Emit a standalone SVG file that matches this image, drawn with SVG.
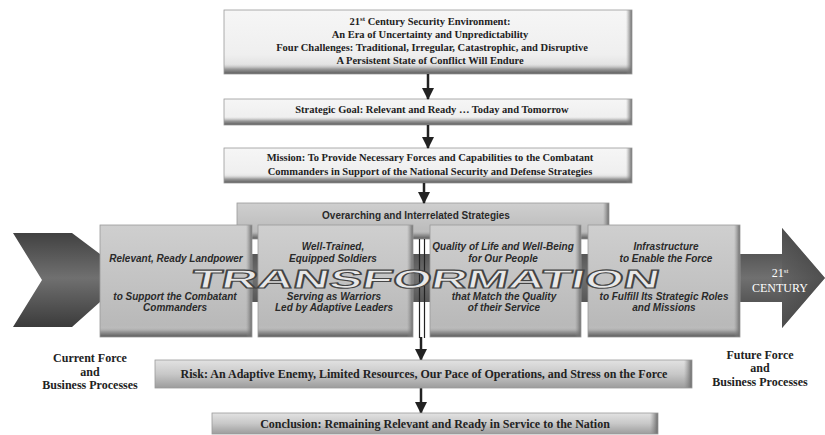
<svg xmlns="http://www.w3.org/2000/svg" width="825" height="435" viewBox="0 0 825 435">
<defs>
  <linearGradient id="gWhite" x1="0" y1="0" x2="0" y2="1">
    <stop offset="0" stop-color="#f6f6f6"/>
    <stop offset="0.7" stop-color="#efefef"/>
    <stop offset="1" stop-color="#d8d8d8"/>
  </linearGradient>
  <linearGradient id="gBottom" x1="0" y1="0" x2="0" y2="1">
    <stop offset="0" stop-color="#d0d0d0" stop-opacity="0"/>
    <stop offset="0.5" stop-color="#9a9a9a"/>
    <stop offset="1" stop-color="#5a5a5a"/>
  </linearGradient>
  <linearGradient id="gRight" x1="0" y1="0" x2="1" y2="0">
    <stop offset="0" stop-color="#888" stop-opacity="0"/>
    <stop offset="1" stop-color="#6a6a6a"/>
  </linearGradient>
  <linearGradient id="gGray" x1="0" y1="0" x2="0" y2="1">
    <stop offset="0" stop-color="#cfcfcf"/>
    <stop offset="0.5" stop-color="#c3c3c3"/>
    <stop offset="1" stop-color="#b6b6b6"/>
  </linearGradient>
  <linearGradient id="gBar" x1="0" y1="0" x2="0" y2="1">
    <stop offset="0" stop-color="#e2e2e2"/>
    <stop offset="0.5" stop-color="#c8c8c8"/>
    <stop offset="1" stop-color="#9c9c9c"/>
  </linearGradient>
  <linearGradient id="gArrow" x1="0" y1="0" x2="0" y2="1">
    <stop offset="0" stop-color="#3c3c3c"/>
    <stop offset="0.5" stop-color="#707070"/>
    <stop offset="1" stop-color="#3a3a3a"/>
  </linearGradient>
  <linearGradient id="gHead" x1="0" y1="0" x2="1" y2="0">
    <stop offset="0" stop-color="#5a5a5a"/>
    <stop offset="1" stop-color="#3a3a3a"/>
  </linearGradient>
  <marker id="ah" markerWidth="12" markerHeight="12" refX="11" refY="6" orient="auto" markerUnits="userSpaceOnUse">
    <path d="M0,0 L12,6 L0,12 Z" fill="#222"/>
  </marker>
  <style>
    .edge{fill:none;stroke:#999;stroke-width:0.8}
    .serif{font-family:"Liberation Serif","Times New Roman",serif;font-weight:bold;fill:#222;text-anchor:middle}
    .top{font-size:10.5px}
    .bar{font-size:12px}
    .side{font-size:12px}
    .it{font-family:"Liberation Sans",Arial,sans-serif;font-style:italic;font-weight:bold;font-size:10px;fill:#2a2a2a;text-anchor:middle}
    .sans{font-family:"Liberation Sans",Arial,sans-serif;font-weight:bold;font-size:10px;fill:#2a2a2a;text-anchor:middle}
    .conn{stroke:#222;stroke-width:2.5;fill:none}
  </style>
</defs>
<rect width="825" height="435" fill="#ffffff"/>

<!-- big transformation arrow -->
<g id="transformation-arrow">
  <path d="M13,233 L72,233 L100,254 L782,254 L782,228 L825,278 L782,328 L782,302 L100,302 L72,327 L13,327 L42,280 Z" fill="url(#gArrow)"/>
  <path d="M782,228 L825,278 L782,328 Z" fill="url(#gHead)" opacity="0.6"/>
  <text x="780" y="277" class="serif" style="font-size:12px;font-weight:normal;fill:#fff">21<tspan font-size="7" dy="-4">st</tspan></text>
  <text x="780" y="292" class="serif" style="font-size:12px;font-weight:normal;fill:#fff">CENTURY</text>
</g>

<g id="environment">
  <rect x="224" y="10" width="408" height="64" fill="url(#gWhite)"/>
  <rect x="224" y="64" width="408" height="10" fill="url(#gBottom)"/>
  <rect x="626" y="10" width="6" height="64" fill="url(#gRight)"/>
  <rect x="224" y="10" width="408" height="64" class="edge"/>
  <text x="430" y="25" class="serif top">21<tspan font-size="7" dy="-4">st</tspan><tspan dy="4"> Century Security Environment:</tspan></text>
  <text x="430" y="38" class="serif top">An Era of Uncertainty and Unpredictability</text>
  <text x="432" y="51" class="serif top">Four Challenges:  Traditional, Irregular, Catastrophic, and Disruptive</text>
  <text x="430" y="64" class="serif top">A Persistent State of Conflict Will Endure</text>
</g>

<g id="strategic-goal">
  <rect x="224" y="99" width="408" height="26" fill="url(#gWhite)"/>
  <rect x="224" y="117" width="408" height="8" fill="url(#gBottom)"/>
  <rect x="626" y="99" width="6" height="26" fill="url(#gRight)"/>
  <rect x="224" y="99" width="408" height="26" class="edge"/>
  <text x="432" y="113" class="serif top">Strategic Goal:  Relevant and Ready … Today and Tomorrow</text>
</g>

<g id="mission">
  <rect x="224" y="148" width="408" height="35" fill="url(#gWhite)"/>
  <rect x="224" y="175" width="408" height="8" fill="url(#gBottom)"/>
  <rect x="626" y="148" width="6" height="35" fill="url(#gRight)"/>
  <rect x="224" y="148" width="408" height="35" class="edge"/>
  <text x="430" y="161" class="serif top">Mission:  To Provide Necessary Forces and Capabilities to the Combatant</text>
  <text x="430" y="175" class="serif top">Commanders in Support of the National Security and Defense Strategies</text>
</g>

<g id="overarching">
  <rect x="237" y="203" width="372" height="36" fill="url(#gGray)"/>
  <rect x="237" y="230" width="372" height="9" fill="url(#gBottom)"/>
  <rect x="603" y="203" width="6" height="36" fill="url(#gRight)"/>
  <rect x="237" y="203" width="372" height="36" class="edge"/>
  <text x="416" y="219" class="sans">Overarching and Interrelated Strategies</text>
</g>

<g id="connectors">
  <line x1="428" y1="74" x2="428" y2="99" class="conn" marker-end="url(#ah)"/>
  <line x1="428" y1="125" x2="428" y2="148" class="conn" marker-end="url(#ah)"/>
  <line x1="424" y1="183" x2="424" y2="203" class="conn" marker-end="url(#ah)"/>
  <line x1="419.5" y1="239" x2="419.5" y2="338" stroke="#222" stroke-width="1.2"/>
  <line x1="424.5" y1="239" x2="424.5" y2="338" stroke="#222" stroke-width="1.2"/>
  <line x1="421" y1="337" x2="421" y2="360" class="conn" marker-end="url(#ah)"/>
  <line x1="421" y1="388" x2="421" y2="413" class="conn" marker-end="url(#ah)"/>
</g>

<g id="landpower">
  <rect x="100" y="225" width="152" height="112" fill="url(#gGray)"/>
  <rect x="100" y="326" width="152" height="11" fill="url(#gBottom)"/>
  <rect x="246" y="225" width="6" height="112" fill="url(#gRight)"/>
  <rect x="100" y="225" width="152" height="112" class="edge"/>
  <text x="176" y="262" class="it">Relevant, Ready Landpower</text>
  <text x="175" y="300" class="it">to Support the Combatant</text>
  <text x="175" y="311" class="it">Commanders</text>
</g>

<g id="soldiers">
  <rect x="258" y="225" width="155" height="112" fill="url(#gGray)"/>
  <rect x="258" y="326" width="155" height="11" fill="url(#gBottom)"/>
  <rect x="407" y="225" width="6" height="112" fill="url(#gRight)"/>
  <rect x="258" y="225" width="155" height="112" class="edge"/>
  <text x="333" y="250" class="it">Well-Trained,</text>
  <text x="333" y="262" class="it">Equipped Soldiers</text>
  <text x="334" y="300" class="it">Serving as Warriors</text>
  <text x="334" y="311" class="it">Led by Adaptive Leaders</text>
</g>

<g id="quality-of-life">
  <rect x="430" y="225" width="151" height="112" fill="url(#gGray)"/>
  <rect x="430" y="326" width="151" height="11" fill="url(#gBottom)"/>
  <rect x="575" y="225" width="6" height="112" fill="url(#gRight)"/>
  <rect x="430" y="225" width="151" height="112" class="edge"/>
  <text x="503" y="250" class="it">Quality of Life and Well-Being</text>
  <text x="503" y="262" class="it">for Our People</text>
  <text x="504" y="300" class="it">that Match the Quality</text>
  <text x="504" y="311" class="it">of their Service</text>
</g>

<g id="infrastructure">
  <rect x="588" y="225" width="152" height="112" fill="url(#gGray)"/>
  <rect x="588" y="326" width="152" height="11" fill="url(#gBottom)"/>
  <rect x="734" y="225" width="6" height="112" fill="url(#gRight)"/>
  <rect x="588" y="225" width="152" height="112" class="edge"/>
  <text x="666" y="250" class="it">Infrastructure</text>
  <text x="666" y="262" class="it">to Enable the Force</text>
  <text x="664" y="300" class="it">to Fulfill Its Strategic Roles</text>
  <text x="664" y="311" class="it">and Missions</text>
</g>

<g id="transformation-label">
  <text x="424" y="288" textLength="468" lengthAdjust="spacingAndGlyphs" transform="skewX(-12) translate(61,0)" style="font-family:'Liberation Sans',Arial,sans-serif;font-weight:bold;font-size:26px;fill:#e8e8e8;stroke:#444;stroke-width:1.1;text-anchor:middle">TRANSFORMATION</text>
</g>

<g id="current-force">
  <text x="90" y="362" class="serif side">Current Force</text>
  <text x="90" y="376" class="serif side">and</text>
  <text x="90" y="389" class="serif side">Business Processes</text>
</g>

<g id="future-force">
  <text x="760" y="359" class="serif side">Future Force</text>
  <text x="760" y="372" class="serif side">and</text>
  <text x="760" y="386" class="serif side">Business Processes</text>
</g>

<g id="risk">
  <rect x="155" y="360" width="537" height="28" fill="url(#gBar)"/>
  <rect x="684" y="360" width="8" height="28" fill="url(#gRight)"/>
  <rect x="155" y="360" width="537" height="28" class="edge"/>
  <text x="424" y="378" class="serif bar">Risk:  An Adaptive Enemy, Limited Resources, Our Pace of Operations, and Stress on the Force</text>
</g>

<g id="conclusion">
  <rect x="212" y="413" width="446" height="21" fill="url(#gBar)"/>
  <rect x="650" y="413" width="8" height="21" fill="url(#gRight)"/>
  <rect x="212" y="413" width="446" height="21" class="edge"/>
  <text x="435" y="428" class="serif bar">Conclusion:  Remaining Relevant and Ready in Service to the Nation</text>
</g>
</svg>
